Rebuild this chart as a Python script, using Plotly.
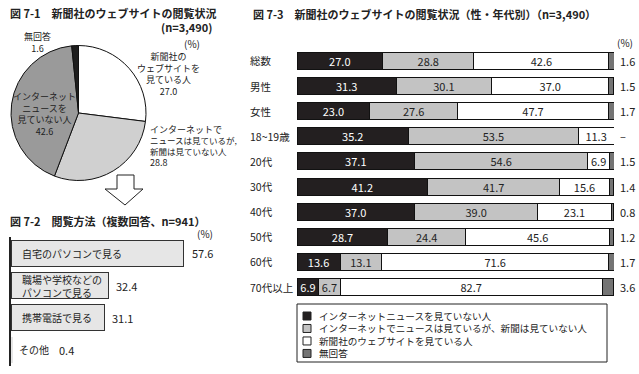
import plotly.graph_objects as go

W, H = 639, 374
FONT = "Noto Sans CJK JP"

# ---------- data ----------
pie_labels = ["新聞社のウェブサイトを見ている人", "インターネットでニュースは見ているが、新聞は見ていない人",
              "インターネットニュースを見ていない人", "無回答"]
pie_values = [27.0, 28.8, 42.6, 1.6]

method_labels = ["自宅のパソコンで見る", "職場や学校などの<br>パソコンで見る", "携帯電話で見る", "その他"]
method_values = [57.6, 32.4, 31.1, 0.4]

groups = ["総数", "男性", "女性", "18~19歳", "20代", "30代", "40代", "50代", "60代", "70代以上"]
s_black = [27.0, 31.3, 23.0, 35.2, 37.1, 41.2, 37.0, 28.7, 13.6, 6.9]
s_gray = [28.8, 30.1, 27.6, 53.5, 54.6, 41.7, 39.0, 24.4, 13.1, 6.7]
s_white = [42.6, 37.0, 47.7, 11.3, 6.9, 15.6, 23.1, 45.6, 71.6, 82.7]
s_na = [1.6, 1.5, 1.7, 0.0, 1.5, 1.4, 0.8, 1.2, 1.7, 3.6]
s_na_text = ["1.6", "1.5", "1.7", "–", "1.5", "1.4", "0.8", "1.2", "1.7", "3.6"]

legend_labels = ["インターネットニュースを見ていない人",
                 "インターネットでニュースは見ているが、新聞は見ていない人",
                 "新聞社のウェブサイトを見ている人",
                 "無回答"]

C_BLACK, C_GRAY, C_WHITE, C_NA = "#231f20", "#c3c3c3", "#ffffff", "#747474"


def px(x):
    return x / W


def py(y):
    return 1 - y / H


fig = go.Figure()

# ---------- Fig 7-1 pie ----------
fig.add_trace(go.Pie(
    labels=pie_labels, values=pie_values, sort=False, direction="clockwise", rotation=0,
    marker=dict(colors=["#ffffff", "#d0d0d0", "#9a9a9a", "#1e1e1e"], line=dict(color="#111", width=1)),
    textinfo="none", hoverinfo="skip", showlegend=False,
    domain=dict(x=[px(11), px(146)], y=[py(181), py(45)]),
))

# ---------- Fig 7-2 bars ----------
fig.add_trace(go.Bar(
    y=method_labels, x=method_values, orientation="h", xaxis="x", yaxis="y",
    width=0.82, showlegend=False, hoverinfo="skip",
    marker=dict(color="#e6e6e6", line=dict(color="#333", width=[1, 1, 1, 0])),
))

# ---------- Fig 7-3 stacked bars ----------
series = [
    (s_black, C_BLACK, "#ffffff", True),
    (s_gray, C_GRAY, "#222222", True),
    (s_white, C_WHITE, "#222222", True),
    (s_na, C_NA, "#222222", False),
]
for vals, col, tcol, show_text in series:
    fig.add_trace(go.Bar(
        y=groups, x=vals, orientation="h", xaxis="x2", yaxis="y2",
        width=0.68, showlegend=False, hoverinfo="skip",
        marker=dict(color=col, line=dict(color="#111", width=1)),
        text=[f"{v:.1f}" for v in vals] if show_text else None,
        textposition="inside" if show_text else "none",
        insidetextanchor="middle", textangle=0, constraintext="none",
        textfont=dict(color=tcol, size=11, family=FONT),
    ))

ann = []


def add_text(x, y, text, size=10, xanchor="left", yanchor="middle", xref="paper", yref="paper",
             bold=False, color="#222", align="left", xshift=0):
    ann.append(dict(
        x=x, y=y, xref=xref, yref=yref, text=f"<b>{text}</b>" if bold else text,
        showarrow=False, xanchor=xanchor, yanchor=yanchor, align=align, xshift=xshift,
        font=dict(size=size, color=color, family=FONT),
    ))


# titles
add_text(px(8), py(13), "図 7-1　新聞社のウェブサイトの閲覧状況", size=11, bold=True)
add_text(px(214), py(27), "(n=3,490)", size=11, bold=True, xanchor="right")
add_text(px(8), py(221), "図 7-2　閲覧方法（複数回答、n=941）", size=11, bold=True)
add_text(px(251), py(14), "図 7-3　新聞社のウェブサイトの閲覧状況（性・年代別）（n=3,490）", size=11, bold=True)

# pie labels
add_text(px(192), py(43), "(%)", size=10, xanchor="center")
add_text(px(37), py(42), f"無回答<br>{pie_values[3]:.1f}", size=9, xanchor="center", align="center")
add_text(px(168), py(74), f"新聞社の<br>ウェブサイトを<br>見ている人<br>{pie_values[0]:.1f}",
         size=9, xanchor="center", align="center")
add_text(px(44), py(114), f"インターネット<br>ニュースを<br>見ていない人<br>{pie_values[2]:.1f}",
         size=9, xanchor="center", align="center")
add_text(px(148), py(146),
         '<span style="font-size:9px">インターネットで</span><br>ニュースは見ているが,<br>新聞は見ていない人<br>'
         f'<span style="font-size:9px">{pie_values[1]:.1f}</span>',
         size=8.5)

# fig 7-2 labels
add_text(px(205), py(233), "(%)", size=10, xanchor="center")
for lab, v in zip(method_labels, method_values):
    if v >= 1:
        add_text(0, lab, lab, size=10, xref="x", yref="y", xshift=9)
        add_text(v, lab, f"{v:.1f}", size=11, xref="x", yref="y", xshift=6)
    else:
        add_text(0, lab, lab, size=10, xref="x", yref="y", xshift=6)
        add_text(0, lab, f"{v:.1f}", size=11, xref="x", yref="y", xshift=46)

# fig 7-3 labels
add_text(px(625), py(42), "(%)", size=10, xanchor="center")
for g, t in zip(groups, s_na_text):
    add_text(px(248), g, g, size=10.5, yref="y2")
    add_text(px(618), g, t, size=11, yref="y2")

# custom legend
LEG_FS = 9.6
LEG_STEP = LEG_FS * 1.3
LEG_TOP = 316
shapes = [
    dict(type="rect", xref="paper", yref="paper", x0=px(297), x1=px(607), y0=py(304), y1=py(362),
         line=dict(color="#222", width=1), fillcolor="white"),
    # arrow
    dict(type="path", xref="paper", yref="paper",
         path=(f"M {px(117)},{py(175)} L {px(134)},{py(175)} L {px(134)},{py(189)} L {px(143)},{py(189)} "
               f"L {px(125)},{py(205)} L {px(105)},{py(189)} L {px(117)},{py(189)} Z"),
         line=dict(color="#222", width=1), fillcolor="white"),
]
leg_cols = [C_BLACK, C_GRAY, C_WHITE, C_NA]
for i, col in enumerate(leg_cols):
    yc = LEG_TOP + i * LEG_STEP
    shapes.append(dict(type="rect", xref="paper", yref="paper",
                       x0=px(303), x1=px(311), y0=py(yc + 4), y1=py(yc - 4),
                       line=dict(color="#222", width=1), fillcolor=col))
add_text(px(317), py(LEG_TOP + 1.5 * LEG_STEP), "<br>".join(legend_labels), size=LEG_FS)

fig.update_layout(
    width=W, height=H, margin=dict(l=0, r=0, t=0, b=0),
    paper_bgcolor="white", plot_bgcolor="rgba(0,0,0,0)",
    barmode="stack", font=dict(family=FONT, color="#222"),
    xaxis=dict(domain=[px(11), px(191)], range=[0, 60], visible=False, fixedrange=True),
    yaxis=dict(domain=[py(366), py(237.4)], type="category", autorange="reversed",
               showline=True, linecolor="#222", linewidth=2, showticklabels=False,
               ticks="", showgrid=False, zeroline=False, anchor="x"),
    xaxis2=dict(domain=[px(297), px(614)], range=[0, 100], visible=False, anchor="y2"),
    yaxis2=dict(domain=[py(299.6), py(48.4)], type="category", autorange="reversed",
                visible=False, anchor="x2"),
    annotations=ann, shapes=shapes,
)

fig.write_html(
    "out.html",
    config={"displayModeBar": False},
    post_script="document.body.style.margin='0';document.body.style.padding='0';document.body.style.overflow='hidden';",
)
